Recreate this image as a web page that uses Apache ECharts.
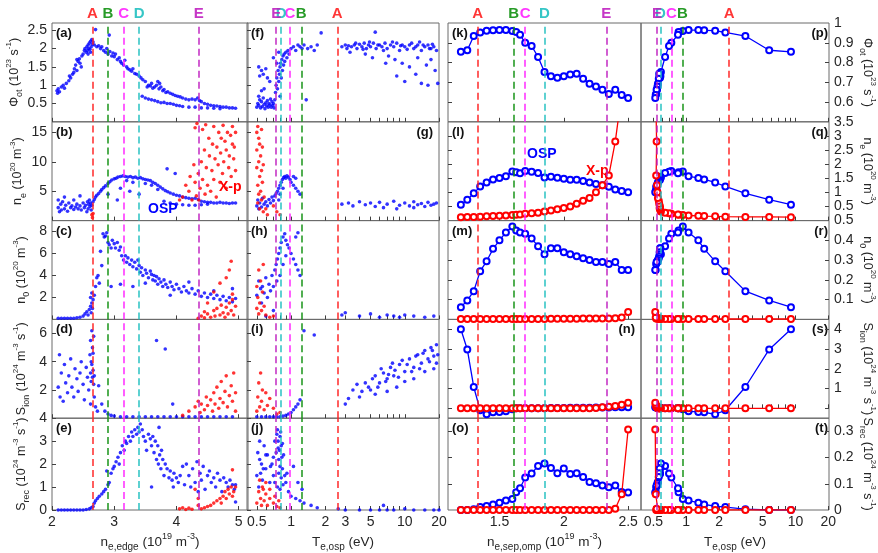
<!DOCTYPE html>
<html><head><meta charset="utf-8">
<script src="https://cdn.jsdelivr.net/npm/echarts@6/dist/echarts.min.js"></script>
<style>html,body{margin:0;padding:0;background:#fff}#c{width:878px;height:553px}</style>
</head><body><div id="c"></div>
<script>
// ---------- markers ----------
const markNames = ['A','B','C','D','E'];
const markColors = ['#ff2020','#109010','#ff20ff','#20c0c0','#c020c0'];
const markEdge = [2.65,2.9,3.15,3.4,4.36];
const markTeScatter = [2.55,1.23,0.978,0.82,0.738];
const markSep = [1.334,1.614,1.704,1.852,2.334];
const markTeScan = [2.47,0.921,0.729,0.578,0.535];

// ---------- scan (columns 3,4) ----------
const neSep = [1.2,1.25,1.3,1.35,1.4,1.45,1.5,1.55,1.6,1.63,1.66,1.7,1.75,1.8,1.85,1.9,1.95,2.0,2.05,2.1,2.15,2.2,2.25,2.3,2.35,2.4,2.45,2.5];
const teScan = [9.1,5.75,3.48,2.28,1.84,1.46,1.29,1.05,0.93,0.85,0.84,0.73,0.695,0.64,0.586,0.58,0.575,0.57,0.575,0.565,0.56,0.55,0.545,0.54,0.53,0.535,0.525,0.52];
const phiScan = [0.854,0.862,0.934,0.952,0.961,0.963,0.964,0.964,0.959,0.954,0.94,0.90,0.884,0.828,0.752,0.73,0.723,0.73,0.74,0.743,0.718,0.692,0.679,0.662,0.641,0.662,0.636,0.621];
const neOspScan = [0.565,0.742,0.965,1.21,1.35,1.46,1.51,1.57,1.74,1.71,1.68,1.76,1.73,1.69,1.53,1.55,1.52,1.48,1.45,1.45,1.4,1.35,1.3,1.25,1.2,1.1,1.05,1.0];
const neXpScan = [0.12,0.13,0.13,0.14,0.15,0.16,0.17,0.18,0.2,0.21,0.22,0.24,0.26,0.28,0.32,0.36,0.4,0.45,0.5,0.6,0.7,0.8,1.0,1.25,1.6,2.8,4.5,6.0];
const n0OspScan = [0.062,0.096,0.143,0.244,0.294,0.357,0.40,0.44,0.47,0.45,0.44,0.433,0.41,0.37,0.33,0.36,0.36,0.34,0.33,0.32,0.31,0.30,0.29,0.29,0.28,0.29,0.25,0.25];
const n0XpScan = [0.002,0.002,0.002,0.002,0.002,0.002,0.002,0.002,0.002,0.002,0.002,0.002,0.002,0.002,0.002,0.003,0.003,0.003,0.003,0.003,0.004,0.004,0.004,0.005,0.005,0.006,0.01,0.037];
const sionOspScan = [4.0,2.98,1.08,-0.1,-0.3,-0.2,-0.18,-0.15,-0.05,0,0,0,0,0,0,0.02,0.02,0.02,0.03,0.03,0.03,0.03,0.04,0.04,0.04,0.05,0.05,0.05];
const sionXpScan = [0,0,0,0,0,0,0,0,0,0,0,0,0,0,0,0,0,0,0,0,0,0,0.02,0.05,0.08,0.12,0.18,0.28];
const srecOspScan = [0,0,0.003,0.011,0.015,0.021,0.028,0.036,0.042,0.068,0.083,0.124,0.139,0.168,0.177,0.16,0.14,0.158,0.137,0.14,0.126,0.107,0.102,0.093,0.087,0.093,0.069,0.067];
const srecXpScan = [0,0,0,0,0,0,0,0,0,0,0,0,0,0,0,0,0,0,0,0,0,0,0,0,0,0.005,0.06,0.307];

// ---------- scatter (columns 1,2): [x, y] ----------
const phiEdge = [[2.08,0.85],[2.09,0.78],[2.1,0.9],[2.12,0.82],[2.15,0.95],[2.18,1.0],[2.2,0.92],[2.23,1.05],[2.27,1.12],[2.3,1.2],[2.33,1.3],[2.36,1.45],[2.38,1.55],[2.4,1.7],[2.42,1.65],[2.44,1.72],[2.45,1.6],[2.47,1.5],[2.48,1.8],[2.5,1.85],[2.52,1.95],[2.53,2.0],[2.55,1.9],[2.56,2.05],[2.57,1.95],[2.58,2.1],[2.59,2.0],[2.6,2.15],[2.61,1.98],[2.62,2.2],[2.63,2.05],[2.64,2.25],[2.65,2.12],[2.66,2.18],[2.62,1.9],[2.58,1.85],[2.35,1.35],[2.4,1.4],[2.28,1.25],[2.68,2.1],[2.7,2.52],[2.72,2.05],[2.75,2.08],[2.78,2.0],[2.8,2.05],[2.83,1.95],[2.86,1.9],[2.88,2.0],[2.9,1.85],[2.92,2.37],[2.93,1.92],[2.96,1.8],[2.98,1.88],[3.0,1.78],[3.02,1.85],[3.05,1.7],[3.08,1.75],[3.1,1.65],[3.12,1.6],[3.15,1.55],[3.17,1.68],[3.2,1.5],[3.22,1.45],[3.25,1.42],[3.28,1.38],[3.3,1.45],[3.33,1.32],[3.36,1.3],[3.4,1.25],[3.43,1.2],[3.46,1.15],[3.5,1.1],[3.53,0.95],[3.55,1.0],[3.58,0.98],[3.6,1.05],[3.62,0.92],[3.65,0.95],[3.68,1.0],[3.7,1.1],[3.72,0.9],[3.73,1.05],[3.75,0.95],[3.78,0.85],[3.8,0.88],[3.83,0.8],[3.86,0.82],[3.9,0.78],[3.94,0.75],[3.98,0.72],[4.02,0.7],[4.06,0.68],[4.1,0.65],[4.15,0.62],[4.2,0.6],[4.25,0.62],[4.3,0.6],[4.34,0.65],[4.37,0.58],[4.4,0.55],[4.45,0.5],[4.5,0.48],[4.55,0.45],[4.6,0.44],[4.65,0.43],[4.7,0.42],[4.75,0.4],[4.8,0.4],[4.85,0.38],[4.9,0.38],[4.95,0.37],[3.45,0.7],[3.5,0.65],[3.55,0.62],[3.6,0.6],[3.65,0.58],[3.7,0.55],[3.75,0.52],[3.8,0.53],[3.85,0.5],[3.9,0.5],[3.95,0.48],[4.0,0.45],[4.05,0.44],[4.1,0.42],[4.2,0.4],[4.3,0.4],[4.4,0.38],[4.5,0.38],[4.6,0.37],[4.7,0.36]];
const phiTe = [[0.5,0.4],[0.51,0.5],[0.52,0.45],[0.53,0.6],[0.54,0.38],[0.55,0.55],[0.56,0.42],[0.57,0.65],[0.58,0.48],[0.59,0.36],[0.6,0.52],[0.61,0.44],[0.62,0.58],[0.63,0.4],[0.64,0.5],[0.65,0.46],[0.66,0.62],[0.67,0.4],[0.68,0.55],[0.69,0.45],[0.7,0.5],[0.71,0.38],[0.52,0.7],[0.55,0.85],[0.58,0.9],[0.53,1.25],[0.55,1.4],[0.52,1.5],[0.57,1.3],[0.6,1.45],[0.62,1.2],[0.65,1.1],[0.72,0.6],[0.73,0.8],[0.74,1.0],[0.75,1.2],[0.76,0.9],[0.77,1.4],[0.78,1.1],[0.79,1.3],[0.8,1.5],[0.8,0.7],[0.81,1.6],[0.82,1.2],[0.83,1.7],[0.84,1.4],[0.85,1.8],[0.86,1.55],[0.87,1.85],[0.88,1.65],[0.9,1.9],[0.92,1.75],[0.94,1.95],[0.96,1.85],[0.75,1.6],[0.7,1.75],[0.78,1.9],[1.0,2.0],[1.05,2.05],[1.1,1.95],[1.15,2.1],[1.2,2.05],[1.25,2.0],[1.3,2.1],[1.4,2.0],[1.5,2.05],[1.6,1.95],[1.7,2.1],[1.84,2.43],[1.36,0.6],[2.8,2.05],[3.0,2.1],[3.2,2.08],[3.4,2.05],[3.6,2.1],[3.8,2.0],[4.0,2.12],[4.2,2.05],[4.4,2.15],[4.6,2.0],[4.8,2.1],[5.0,2.05],[5.3,2.15],[5.6,2.0],[6.0,2.1],[6.3,2.05],[6.7,2.15],[7.0,2.0],[7.5,2.1],[8.0,2.05],[8.5,2.15],[9.0,1.95],[9.5,2.1],[10,2.05],[11,2.1],[12,2.0],[13,2.1],[14,1.95],[15,2.05],[16,2.1],[17,2.0],[18,2.05],[19,1.95],[5.5,2.45],[3.3,1.9],[4.5,1.85],[5.2,1.75],[7.2,1.8],[8.2,1.7],[9.5,1.6],[11,1.5],[12.5,1.3],[10,1.1],[14,1.05],[16,1.0],[18.5,1.4],[19.5,1.05],[8.5,1.25],[6.8,1.6],[13,1.75],[15.5,1.55],[17,1.7],[3.1,2.0],[3.7,2.15],[4.3,1.98],[4.9,2.18],[5.8,2.1],[6.5,1.95],[7.8,2.18],[9.2,2.08],[10.5,1.98],[11.5,2.15],[12.5,2.05],[13.5,2.18],[14.5,2.1],[16.5,2.0],[17.5,2.12]];

const neEdgeOsp = [[2.1,3.5],[2.1,2.2],[2.12,1.5],[2.14,2.8],[2.15,1.8],[2.17,3.2],[2.2,2.0],[2.22,2.6],[2.25,1.6],[2.27,3.0],[2.3,2.2],[2.32,2.5],[2.35,1.9],[2.38,2.3],[2.4,2.8],[2.42,2.0],[2.45,2.5],[2.47,1.8],[2.5,3.0],[2.52,2.2],[2.54,2.6],[2.56,1.5],[2.57,3.2],[2.58,2.0],[2.59,2.8],[2.6,3.5],[2.61,2.4],[2.62,3.0],[2.63,1.8],[2.64,2.6],[2.2,4.0],[2.35,3.5],[2.45,4.2],[2.66,3.2],[2.68,3.6],[2.7,4.0],[2.72,4.3],[2.75,4.6],[2.78,5.0],[2.8,5.3],[2.83,5.6],[2.86,5.9],[2.9,6.3],[2.93,6.6],[2.96,6.9],[3.0,7.1],[3.03,7.2],[3.06,7.4],[3.1,7.5],[3.14,7.6],[3.18,7.5],[3.22,7.4],[3.26,7.5],[3.3,7.3],[3.34,7.4],[3.38,7.2],[3.42,7.3],[3.46,7.1],[3.5,7.0],[3.54,6.9],[3.58,6.8],[3.62,6.5],[3.66,6.3],[3.7,6.0],[3.74,5.7],[3.78,5.4],[3.82,5.1],[3.86,4.9],[3.9,4.7],[3.95,4.5],[4.0,4.3],[4.05,4.2],[4.1,4.0],[4.15,3.9],[4.2,3.8],[4.25,3.7],[4.3,3.8],[4.35,3.6],[4.4,3.3],[4.45,3.2],[4.5,3.1],[4.55,3.1],[4.6,3.0],[4.65,3.0],[4.7,3.1],[4.75,3.0],[4.8,3.0],[4.85,2.9],[4.9,3.0],[4.95,3.0],[3.2,6.8],[3.3,6.5],[3.1,5.5],[3.25,5.0],[3.4,4.5],[2.9,4.5],[3.85,8.8],[3.98,8.0],[3.7,5.3],[3.6,6.0],[3.5,6.3],[3.05,3.5],[3.8,3.3],[3.9,3.0],[4.0,2.8],[4.1,2.7],[4.2,2.6],[4.3,2.6],[4.4,2.7],[4.5,2.8]];
const neEdgeXp = [[2.64,1.0],[2.65,0.5],[2.66,1.2],[4.1,4.0],[4.2,5.0],[4.25,3.5],[4.3,6.5],[4.32,4.2],[4.35,8.0],[4.36,3.5],[4.38,5.5],[4.4,10.0],[4.42,7.0],[4.42,15.5],[4.45,12.0],[4.46,4.5],[4.48,9.0],[4.5,6.0],[4.52,14.0],[4.53,11.0],[4.55,5.0],[4.57,8.5],[4.58,13.0],[4.6,16.0],[4.6,7.0],[4.62,10.5],[4.64,4.0],[4.65,12.5],[4.67,9.5],[4.68,15.0],[4.7,6.5],[4.71,11.5],[4.72,14.0],[4.74,8.0],[4.75,16.2],[4.76,10.0],[4.78,13.5],[4.8,5.5],[4.8,12.0],[4.82,15.0],[4.84,9.0],[4.85,11.0],[4.87,14.5],[4.88,7.5],[4.9,13.0],[4.9,16.0],[4.92,10.5],[4.93,12.5],[4.95,15.0],[4.95,8.5],[4.3,15.8],[4.33,16.5],[4.47,16.3],[4.22,7.5],[4.15,6.0],[4.05,3.5],[4.28,9.5]];
const neTeOsp = [[0.5,2.5],[0.51,3.5],[0.52,2.0],[0.53,3.0],[0.55,2.3],[0.56,3.8],[0.58,2.8],[0.6,3.2],[0.62,2.5],[0.64,3.6],[0.66,3.0],[0.68,4.0],[0.7,3.4],[0.72,4.2],[0.74,4.6],[0.76,5.0],[0.78,5.5],[0.8,6.0],[0.82,6.5],[0.84,7.0],[0.86,7.3],[0.88,7.5],[0.9,7.2],[0.92,7.6],[0.95,7.4],[0.98,7.0],[1.0,6.5],[1.05,6.0],[1.1,5.5],[1.15,5.0],[1.2,4.5],[1.1,7.2],[1.05,7.5],[0.85,5.5],[0.8,4.5],[0.78,3.5],[2.8,2.8],[3.2,3.0],[3.5,2.5],[4,3.2],[4.5,2.7],[5,3.0],[5.5,2.4],[6,3.1],[7,2.8],[8,3.3],[9,2.6],[10,3.0],[11,2.5],[12,3.2],[13,2.7],[14,2.9],[15,2.4],[16,3.1],[17,2.6],[18,2.8],[19,3.0],[6.5,2.2],[8.5,2.0],[12,2.2]];
const neTeXp = [[0.5,15],[0.5,12],[0.5,9],[0.51,16],[0.51,6],[0.51,3],[0.52,14],[0.52,10],[0.52,4.5],[0.53,13],[0.53,7.5],[0.53,2],[0.54,11],[0.54,5],[0.55,8.5],[0.55,15.5],[0.55,3.5],[0.56,12.5],[0.56,6.5],[0.57,9.5],[0.57,1.5],[0.58,4],[0.6,2],[0.62,1],[0.7,2.5],[0.75,1.5],[0.8,1.0]];

const n0EdgeOsp = [[2.1,0.1],[2.15,0.1],[2.2,0.1],[2.25,0.1],[2.3,0.1],[2.35,0.1],[2.4,0.15],[2.45,0.2],[2.5,0.3],[2.53,0.5],[2.56,0.7],[2.58,0.4],[2.6,0.9],[2.62,1.2],[2.63,0.6],[2.64,1.5],[2.65,1.0],[2.62,2.0],[2.66,1.8],[2.64,2.4],[2.68,2.2],[2.7,3.0],[2.72,3.8],[2.74,4.0],[2.76,3.3],[2.8,4.9],[2.78,6.2],[2.82,7.8],[2.84,7.5],[2.86,7.6],[2.88,7.9],[2.9,7.0],[2.92,6.8],[2.95,6.5],[2.97,7.2],[3.0,6.9],[3.02,6.5],[3.05,7.0],[3.08,6.3],[3.1,6.6],[3.12,5.8],[3.15,5.4],[3.18,5.8],[3.2,5.2],[3.22,5.6],[3.25,5.0],[3.28,5.4],[3.3,4.8],[3.33,5.2],[3.36,4.6],[3.38,5.4],[3.4,4.9],[3.42,4.3],[3.44,4.7],[3.46,4.0],[3.5,4.5],[3.52,4.2],[3.55,3.8],[3.58,4.4],[3.6,4.1],[3.62,3.6],[3.64,4.0],[3.66,3.5],[3.68,3.9],[3.7,3.2],[3.72,3.7],[3.75,3.4],[3.78,3.0],[3.8,3.6],[3.83,3.2],[3.86,2.9],[3.9,3.4],[3.93,3.0],[3.96,2.7],[4.0,3.2],[4.04,2.8],[4.08,2.5],[4.12,3.0],[4.16,2.6],[4.2,2.4],[4.25,2.8],[4.3,2.3],[4.35,2.6],[4.4,2.1],[4.45,2.4],[4.5,2.0],[4.55,2.3],[4.6,1.9],[4.65,2.2],[4.7,1.8],[4.75,2.1],[4.8,1.7],[4.85,2.0],[4.9,1.6],[4.95,1.9],[3.3,3.0],[3.5,3.3],[3.9,2.2],[4.2,3.4],[4.6,2.6],[4.9,2.8],[3.1,3.2],[2.95,3.0]];
const n0EdgeXp = [[4.35,0.1],[4.4,0.3],[4.45,0.15],[4.5,0.5],[4.55,0.2],[4.6,0.8],[4.62,0.3],[4.65,1.0],[4.7,0.4],[4.72,1.3],[4.75,0.6],[4.78,0.2],[4.8,1.1],[4.83,0.5],[4.85,1.5],[4.88,0.8],[4.9,1.8],[4.92,0.4],[4.95,1.2],[4.6,2.5],[4.7,3.3],[4.8,3.8],[4.85,4.5],[4.88,5.3],[4.9,2.3],[4.5,1.5],[4.45,0.7]];
const n0TeOsp = [[0.5,2.2],[0.52,3.5],[0.54,2.8],[0.55,1.5],[0.56,3.0],[0.58,2.4],[0.6,3.8],[0.62,2.0],[0.64,3.2],[0.66,2.6],[0.68,4.0],[0.7,3.0],[0.72,4.5],[0.74,5.0],[0.76,5.5],[0.78,6.0],[0.8,6.5],[0.82,7.0],[0.85,7.5],[0.88,7.8],[0.9,7.2],[0.93,6.8],[0.96,6.5],[1.0,6.0],[1.05,5.5],[1.1,5.0],[1.15,4.5],[1.2,4.0],[0.75,3.5],[0.8,4.0],[0.85,5.0],[0.9,5.8],[1.1,7.5],[1.15,7.9],[0.7,0.8],[0.6,0.3],[2.8,0.4],[3,0.6],[4,0.3],[5,0.5],[6,0.2],[7,0.4],[8,0.3],[9,0.2],[10,0.4],[12,0.3],[15,0.2],[18,0.3]];
const n0TeXp = [[0.5,1.0],[0.5,3.0],[0.51,2.0],[0.52,4.5],[0.52,0.5],[0.53,1.5],[0.54,3.5],[0.55,0.8],[0.56,2.5],[0.57,5.0],[0.58,1.2],[0.6,0.4],[0.65,0.2],[0.7,0.3]];

const sionEdgeOsp = [[2.1,2.2],[2.12,4.5],[2.13,1.5],[2.15,3.2],[2.18,1.2],[2.2,3.8],[2.22,2.5],[2.25,1.8],[2.27,3.0],[2.3,4.2],[2.32,2.2],[2.35,1.5],[2.37,3.5],[2.4,2.8],[2.42,1.9],[2.45,3.2],[2.47,4.0],[2.5,2.4],[2.52,1.3],[2.55,3.6],[2.57,2.9],[2.59,2.0],[2.61,4.5],[2.62,3.2],[2.62,5.5],[2.63,2.6],[2.63,4.0],[2.64,3.8],[2.64,6.2],[2.65,2.9],[2.65,5.0],[2.66,3.4],[2.66,4.6],[2.67,2.4],[2.67,5.8],[2.68,3.0],[2.68,1.5],[2.62,1.0],[2.7,0.8],[2.73,0.5],[2.75,2.3],[2.8,1.0],[2.85,0.5],[2.9,0.3],[2.95,0.2],[3.0,0.15],[3.1,0.1],[3.2,0.1],[3.3,0.1],[3.4,0.1],[3.5,0.1],[3.6,0.1],[3.68,5.5],[3.82,4.9],[3.94,1.0],[3.7,0.1],[3.8,0.1],[3.9,0.1],[4.0,0.1],[4.1,0.1],[4.2,0.1],[4.3,0.1],[4.4,0.1],[4.5,0.1],[4.6,0.1],[4.7,0.1],[4.8,0.1],[4.9,0.1]];
const sionEdgeXp = [[4.1,0.2],[4.2,0.5],[4.3,0.8],[4.35,1.2],[4.38,0.4],[4.4,1.0],[4.45,0.6],[4.48,1.5],[4.5,0.9],[4.55,1.3],[4.58,0.5],[4.6,1.8],[4.62,1.0],[4.65,2.2],[4.68,0.7],[4.7,1.4],[4.72,2.6],[4.75,1.1],[4.78,1.9],[4.8,3.0],[4.82,0.8],[4.85,1.6],[4.88,2.3],[4.9,1.2],[4.92,3.2],[4.95,1.8],[4.95,0.5]];
const sionTeOsp = [[0.5,0.1],[0.55,0.1],[0.6,0.1],[0.65,0.1],[0.7,0.1],[0.75,0.1],[0.8,0.1],[0.85,0.15],[0.9,0.2],[0.95,0.3],[1.0,0.4],[1.05,0.6],[1.1,0.8],[1.15,1.0],[1.2,1.3],[1.3,6.2],[1.6,5.9],[3,1.0],[3.5,2.0],[4,1.5],[4.5,2.5],[5,2.0],[5.5,3.0],[6,2.5],[6.5,3.2],[7,2.8],[7.5,3.6],[8,3.0],[9,3.8],[10,3.3],[11,4.2],[12,3.6],[13,4.5],[14,3.9],[15,4.8],[16,4.2],[17,5.0],[18,4.4],[19,5.2],[8.5,2.2],[10,2.6],[12,2.8],[15,3.3],[18,3.5],[3.2,1.4],[3.8,2.4],[4.2,1.9],[4.8,2.2],[5.2,2.8],[5.8,2.2],[6.2,3.5],[6.8,2.6],[7.2,3.1],[7.8,3.9],[8.2,3.4],[8.8,2.9],[9.5,4.1],[10.5,3.8],[11.5,3.3],[12.5,4.4],[13.5,3.5],[14.5,4.6],[16.5,4.0],[17.5,4.8],[19.5,4.5],[19,3.9],[5.5,1.7],[7,1.9]];
const sionTeXp = [[0.5,0.5],[0.51,1.5],[0.52,2.5],[0.53,0.8],[0.54,3.2],[0.55,1.2],[0.56,2.0],[0.58,0.6],[0.6,1.8],[0.62,0.9],[0.65,1.4],[0.7,0.7],[0.75,0.3],[0.8,0.4]];

const srecEdgeOsp = [[2.1,0],[2.15,0],[2.2,0],[2.25,0],[2.3,0],[2.35,0],[2.4,0],[2.45,0],[2.5,0],[2.55,0.02],[2.6,0.05],[2.63,0.1],[2.66,0.15],[2.68,0.3],[2.7,0.4],[2.73,0.5],[2.76,0.6],[2.8,0.7],[2.83,0.8],[2.86,0.9],[2.9,1.1],[2.88,1.7],[2.92,1.2],[2.95,1.6],[2.98,1.8],[3.0,1.9],[3.03,2.1],[3.06,2.3],[3.08,2.0],[3.1,2.5],[3.13,2.8],[3.16,2.6],[3.18,3.0],[3.2,2.9],[3.23,3.2],[3.26,3.0],[3.28,3.4],[3.3,3.2],[3.33,3.5],[3.36,3.3],[3.38,3.6],[3.4,3.4],[3.42,3.75],[3.45,3.5],[3.47,3.2],[3.5,3.0],[3.52,2.6],[3.55,3.3],[3.58,3.1],[3.6,2.8],[3.62,3.2],[3.64,2.5],[3.66,3.0],[3.68,2.2],[3.7,2.8],[3.71,2.0],[3.72,3.6],[3.73,2.4],[3.75,1.8],[3.76,2.6],[3.78,2.2],[3.8,1.5],[3.82,2.0],[3.85,1.8],[3.88,1.4],[3.9,1.7],[3.93,1.3],[3.96,1.6],[4.0,1.4],[4.03,1.2],[4.06,1.5],[4.1,1.9],[4.13,1.1],[4.16,2.0],[4.2,1.5],[4.23,1.0],[4.26,1.8],[4.3,1.2],[4.33,2.1],[4.35,0.8],[4.38,1.6],[4.4,1.3],[4.43,1.9],[4.46,0.9],[4.5,1.5],[4.53,1.7],[4.56,1.2],[4.6,1.4],[4.63,1.0],[4.66,1.6],[4.7,1.3],[4.73,0.8],[4.76,1.4],[4.8,1.2],[4.83,1.0],[4.86,1.3],[4.9,1.1],[4.93,0.9],[4.95,1.1],[4.95,0.35],[3.95,1.0],[3.6,1.0]];
const srecEdgeXp = [[4.05,0.05],[4.1,0.1],[4.15,0.02],[4.2,0.08],[4.25,0.03],[4.3,0.9],[4.35,0.5],[4.4,0.05],[4.45,0.1],[4.5,0.15],[4.55,0.2],[4.6,0.3],[4.65,0.4],[4.7,0.5],[4.72,0.3],[4.75,0.6],[4.78,0.8],[4.8,0.5],[4.83,0.9],[4.85,0.7],[4.88,1.0],[4.9,0.6],[4.92,0.8],[4.95,1.0],[4.9,1.75],[4.35,0.2]];
const srecTeOsp = [[0.5,1.5],[0.51,2.5],[0.52,1.0],[0.53,3.0],[0.55,2.0],[0.56,1.3],[0.58,2.8],[0.6,1.8],[0.62,2.4],[0.65,1.2],[0.68,2.0],[0.7,1.5],[0.72,3.0],[0.74,2.5],[0.76,3.5],[0.78,2.2],[0.8,3.2],[0.82,2.8],[0.84,1.8],[0.86,2.4],[0.88,1.5],[0.9,1.2],[0.95,0.8],[1.0,0.6],[1.1,0.5],[1.2,0.4],[1.3,0.3],[1.5,0.2],[1.7,0.1],[2.6,0.05],[3,0],[4,0],[5,0],[6,0],[6.5,0.2],[7,0],[8,0],[10,0.05],[12,0],[15,0],[18,0],[20,0],[0.75,3.3],[0.77,3.0],[0.79,2.6],[0.81,3.4],[0.83,2.3],[0.78,1.6],[0.8,1.9],[0.82,1.4],[0.76,1.0],[0.8,0.9],[0.84,2.9],[0.77,2.7],[0.53,2.2],[0.57,1.8],[0.6,2.4],[0.54,1.6],[0.66,1.9],[0.7,2.3],[0.72,1.2],[0.85,1.1],[0.92,1.6],[1.05,1.9],[1.15,1.2],[1.25,0.9]];
const srecTeXp = [[0.5,0.3],[0.52,0.8],[0.54,0.5],[0.56,1.0],[0.58,0.4],[0.6,0.7],[0.62,0.2],[0.65,0.5],[0.7,0.3],[0.75,0.15],[0.8,0.1],[0.53,1.3],[0.57,0.9],[0.6,1.2],[0.55,0.2],[0.65,0.9],[0.72,0.6],[0.78,0.4]];

// ---------- ticks ----------
const edgeTicks = [2,3,4,5];
const teTicksScatter = [0.5,0.6,0.7,0.8,0.9,1,2,3,4,5,6,7,8,9,10,20];
const teLabelsScatter = [0.5,1,2,3,5,10,20];
const sepTicks = [1.5,2,2.5];
const teTicksScan = [0.5,0.6,0.7,0.8,0.9,1,2,3,4,5,6,7,8,9,10,20];
const teLabelsScan = [0.5,1,2,5,10,20];
const leftYRange = [[0,2.7],[0,16.8],[0,9],[0,7],[0,4]];
const leftYLabels = [[0.5,1,1.5,2,2.5],[5,10,15],[2,4,6,8],[2,4,6],[0,1,2,3,4]];
const rightYRange = [[0.5,1],[0,3.5],[0,0.5],[-0.5,4.5],[0,0.35]];
const rightYLabels = [[0.6,0.7,0.8,0.9,1],[0.5,1,1.5,2,2.5,3,3.5],[0.1,0.2,0.3,0.4,0.5],[1,2,3,4],[0,0.1,0.2,0.3]];
const rightYTicks = [[0.6,0.7,0.8,0.9],[0.5,1,1.5,2,2.5,3],[0.1,0.2,0.3,0.4],[0,1,2,3,4],[0.1,0.2,0.3]];

// ---------- layout ----------
const FONT = 'Liberation Sans';
const cols = [{left:52,width:196},{left:247,width:192},{left:448,width:193},{left:641,width:193}];
const rowTop = 23, rowH = 98.8;
const BLUE = '#0000ff', RED = '#ff0000', AX = '#404040';

const richN = {
  n:{fontSize:12.5,fontFamily:FONT,color:'#262626',lineHeight:19},
  sub:{fontSize:9,fontFamily:FONT,color:'#262626',verticalAlign:'bottom'},
  sup:{fontSize:8,fontFamily:FONT,color:'#262626',verticalAlign:'top'}
};
const richX = {
  n:{fontSize:13.5,fontFamily:FONT,color:'#262626',lineHeight:20},
  sub:{fontSize:10,fontFamily:FONT,color:'#262626',verticalAlign:'bottom'},
  sup:{fontSize:9,fontFamily:FONT,color:'#262626',verticalAlign:'top'}
};
const yNames = [
  '{n|Φ}{sub|ot}{n| (10}{sup|23}{n| s}{sup|-1}{n|)}',
  '{n|n}{sub|e}{n| (10}{sup|20}{n| m}{sup|-3}{n|)}',
  '{n|n}{sub|0}{n| (10}{sup|20}{n| m}{sup|-3}{n|)}',
  '{n|S}{sub|ion}{n| (10}{sup|24}{n| m}{sup|-3}{n| s}{sup|-1}{n|)}',
  '{n|S}{sub|rec}{n| (10}{sup|24}{n| m}{sup|-3}{n| s}{sup|-1}{n|)}'
];
const xNames = [
  '{n|n}{sub|e,edge}{n| (10}{sup|19}{n| m}{sup|-3}{n|)}',
  '{n|T}{sub|e,osp}{n| (eV)}',
  '{n|n}{sub|e,sep,omp}{n| (10}{sup|19}{n| m}{sup|-3}{n|)}',
  '{n|T}{sub|e,osp}{n| (eV)}'
];
const panelNames = [['(a)','(f)','(k)','(p)'],['(b)','(g)','(l)','(q)'],['(c)','(h)','(m)','(r)'],['(d)','(i)','(n)','(s)'],['(e)','(j)','(o)','(t)']];
const panelRight = [[0,0,0,1],[0,1,0,1],[0,0,0,1],[0,0,1,1],[0,0,0,1]];

const scatterData = [
  [phiEdge,null,phiTe,null],
  [neEdgeOsp,neEdgeXp,neTeOsp,neTeXp],
  [n0EdgeOsp,n0EdgeXp,n0TeOsp,n0TeXp],
  [sionEdgeOsp,sionEdgeXp,sionTeOsp,sionTeXp],
  [srecEdgeOsp,srecEdgeXp,srecTeOsp,srecTeXp]
];
const scanOsp = [phiScan,neOspScan,n0OspScan,sionOspScan,srecOspScan];
const scanXp = [null,neXpScan,n0XpScan,sionXpScan,srecXpScan];

const grids=[], xAxes=[], yAxes=[], series=[], graphics=[];
function markLineFor(vals,row){
  return {silent:true,symbol:['none','none'],animation:false,
    data: vals.map((v,i)=>({xAxis:v,
      lineStyle:{color:markColors[i],type:[7,4],width:1.6,opacity:0.9},
      label:{show:row===0,position:'end',formatter:markNames[i],color:markColors[i],fontSize:15,fontFamily:FONT,fontWeight:'bold',distance:2}}))};
}
for(let r=0;r<5;r++){
  for(let c=0;c<4;c++){
    const gi = grids.length;
    const top = rowTop + r*rowH;
    grids.push({left:cols[c].left,top:top,width:cols[c].width,height:rowH,show:true,borderColor:'#6a6a6a',borderWidth:1,backgroundColor:'transparent'});
    const bottom = r===4;
    let xa;
    const lbl = {show:bottom,color:'#262626',fontSize:14,fontFamily:FONT,margin:5};
    const tick = {show:true,inside:true,length:4,lineStyle:{color:AX}};
    if(c===0) xa={type:'value',min:2,max:5.15,axisLabel:Object.assign({customValues:edgeTicks},lbl),axisTick:Object.assign({customValues:edgeTicks},tick)};
    else if(c===1) xa={type:'log',min:0.41,max:20,axisLabel:Object.assign({customValues:teLabelsScatter},lbl),axisTick:Object.assign({customValues:teTicksScatter},tick)};
    else if(c===2) xa={type:'value',min:1.1,max:2.6,axisLabel:Object.assign({customValues:sepTicks},lbl),axisTick:Object.assign({customValues:sepTicks},tick)};
    else xa={type:'log',min:0.385,max:20.3,axisLabel:Object.assign({customValues:teLabelsScan},lbl),axisTick:Object.assign({customValues:teTicksScan},tick)};
    Object.assign(xa,{gridIndex:gi,axisLine:{show:false},splitLine:{show:false},minorTick:{show:false}});
    if(bottom){ xa.name = xNames[c]; xa.nameLocation='middle'; xa.nameGap=22; xa.nameTextStyle={rich:richX}; }
    xAxes.push(xa);
    let ya;
    if(c<2){
      const rg = leftYRange[r];
      ya={type:'value',min:rg[0],max:rg[1],axisLabel:{show:c===0,customValues:leftYLabels[r],color:'#262626',fontSize:14,fontFamily:FONT,margin:5},
        axisTick:{show:true,inside:true,length:4,lineStyle:{color:AX},customValues:leftYLabels[r]}};
      if(c===0){ ya.name=yNames[r]; ya.nameLocation='middle'; ya.nameGap=21; ya.nameRotate=90; ya.nameTextStyle={rich:richN}; }
    } else {
      const rg = rightYRange[r];
      ya={type:'value',min:rg[0],max:rg[1],position:c===3?'right':'left',
        axisLabel:{show:c===3,customValues:rightYLabels[r],color:'#262626',fontSize:14,fontFamily:FONT,margin:5},
        axisTick:{show:true,inside:true,length:4,lineStyle:{color:AX},customValues:rightYTicks[r]}};
      if(c===3){ ya.name=yNames[r]; ya.nameLocation='middle'; ya.nameGap=29; ya.nameRotate=-90; ya.nameTextStyle={rich:richN}; }
    }
    Object.assign(ya,{gridIndex:gi,axisLine:{show:false},splitLine:{show:false}});
    yAxes.push(ya);

    const markVals = c===0?markEdge:c===1?markTeScatter:c===2?markSep:markTeScan;
    if(c<2){
      const blue = scatterData[r][c===0?0:2], red = scatterData[r][c===0?1:3];
      series.push({type:'scatter',xAxisIndex:gi,yAxisIndex:gi,data:blue,symbolSize:3.6,itemStyle:{color:BLUE},animation:false,silent:true,markLine:markLineFor(markVals,r),z:3});
      if(red) series.push({type:'scatter',xAxisIndex:gi,yAxisIndex:gi,data:red,symbolSize:3.6,itemStyle:{color:RED},animation:false,silent:true,z:4});
    } else {
      const xs = c===2?neSep:teScan;
      const osp = scanOsp[r], xp = scanXp[r];
      const lineOpts = (col)=>({type:'line',xAxisIndex:gi,yAxisIndex:gi,symbol:'emptyCircle',symbolSize:6,showSymbol:true,animation:false,silent:true,clip:true,
        lineStyle:{color:col,width:1.3},itemStyle:{color:col,borderWidth:1.3}});
      series.push(Object.assign(lineOpts(BLUE),{data:xs.map((x,i)=>[x,osp[i]]),markLine:markLineFor(markVals,r),z:3}));
      if(xp) series.push(Object.assign(lineOpts(RED),{data:xs.map((x,i)=>[x,xp[i]]),z:4}));
    }
    const right = panelRight[r][c];
    graphics.push({type:'text',left: right? undefined : cols[c].left+4, right: right? (878-(cols[c].left+cols[c].width)+6):undefined, top: top+4,
      style:{text:panelNames[r][c],font:'bold 13px '+FONT,fill:'#111'}});
  }
}
graphics.push({type:'text',left:148,top:202,style:{text:'OSP',font:'bold 14px '+FONT,fill:BLUE}});
graphics.push({type:'text',left:219,top:180,style:{text:'X-p',font:'bold 14px '+FONT,fill:RED}});
graphics.push({type:'text',left:527,top:147,style:{text:'OSP',font:'bold 14px '+FONT,fill:BLUE}});
graphics.push({type:'text',left:586,top:164,style:{text:'X-p',font:'bold 14px '+FONT,fill:RED}});

const chart = echarts.init(document.getElementById('c'),null,{renderer:'canvas'});
chart.setOption({animation:false,grid:grids,xAxis:xAxes,yAxis:yAxes,series:series,graphic:graphics});
</script></body></html>
